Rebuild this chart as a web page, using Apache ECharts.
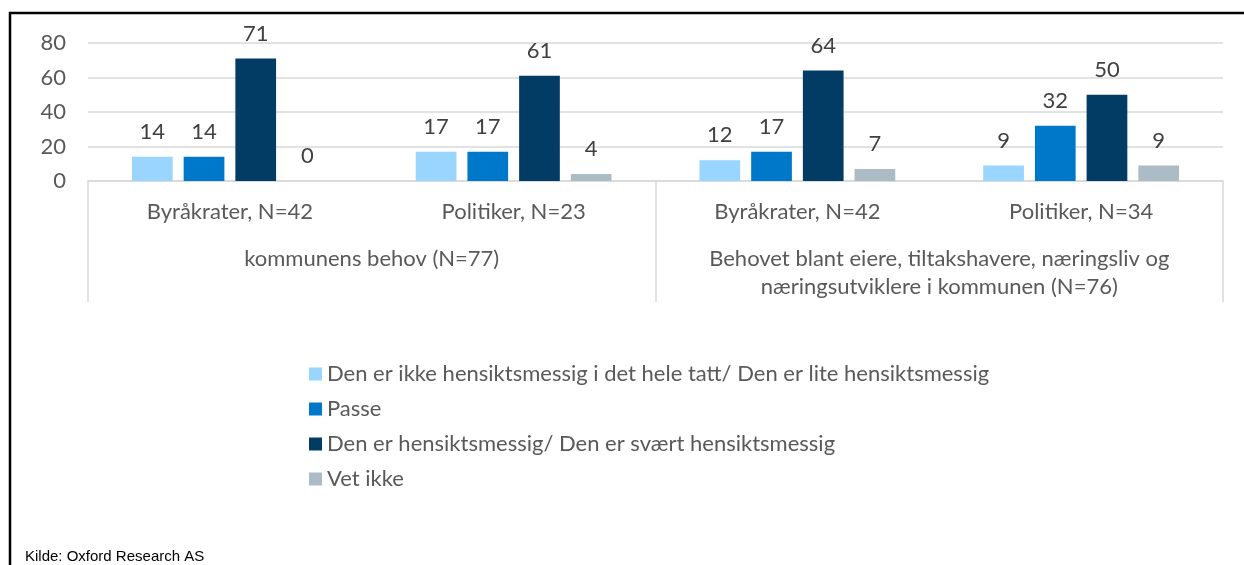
<!DOCTYPE html>
<html>
<head>
<meta charset="utf-8">
<script src="https://cdn.jsdelivr.net/npm/echarts@6/dist/echarts.min.js"></script>
<style>
  html, body { margin: 0; padding: 0; background: #fff; }
  #chart { width: 1244px; height: 565px; }
</style>
</head>
<body>
<div id="chart"></div>
<script>
// categories (inner level) and groups (outer level)
var categories = ["Byråkrater, N=42", "Politiker, N=23", "Byråkrater, N=42", "Politiker, N=34"];
var groups = ["kommunens behov (N=77)", "Behovet blant eiere, tiltakshavere, næringsliv og\nnæringsutviklere i kommunen (N=76)"];
var seriesNames = [
    "Den er ikke hensiktsmessig i det hele tatt/ Den er lite hensiktsmessig",
    "Passe",
    "Den er hensiktsmessig/ Den er svært hensiktsmessig",
    "Vet ikke"
];
var lite = [14, 17, 12, 9];
var passe = [14, 17, 17, 32];
var hensikt = [71, 61, 64, 50];
var vetIkke = [0, 4, 7, 9];
var yTicks = [0, 20, 40, 60, 80];
var colors = ["#99D5FE", "#0078C9", "#023B63", "#ABBCC7"];

var font = "Lato";
var fs = 22;
var chart = echarts.init(document.getElementById("chart"));

function bar(name, data, color) {
    return {
        name: name,
        type: "bar",
        data: data,
        barGap: "27%",
        barCategoryGap: "31%",
        itemStyle: { color: color },
        label: {
            show: true,
            position: "top",
            distance: 14,
            fontFamily: font,
            fontSize: fs,
            color: "#404040"
        }
    };
}

chart.setOption({
    animation: false,
    color: colors,
    grid: { left: 88, right: 21, top: 43, bottom: 384 },
    legend: {
        orient: "vertical",
        left: 304,
        top: 358,
        itemWidth: 13,
        itemHeight: 13,
        itemGap: 13,
        icon: "rect",
        data: seriesNames,
        textStyle: { fontFamily: font, fontSize: fs, color: "#595959", lineHeight: 22 }
    },
    xAxis: [{
        type: "category",
        data: categories,
        position: "bottom",
        axisLine: { lineStyle: { color: "#d9d9d9", width: 1.5 } },
        axisTick: { show: false },
        axisLabel: { interval: 0, margin: 20, fontFamily: font, fontSize: fs, color: "#595959" }
    }, {
        type: "category",
        data: groups,
        position: "bottom",
        axisLine: { show: false },
        axisTick: { show: true, interval: 0, length: 121, lineStyle: { color: "#d9d9d9", width: 1.5 } },
        axisLabel: { interval: 0, margin: 64, fontFamily: font, fontSize: fs, color: "#595959", lineHeight: 28, verticalAlign: "top" }
    }],
    yAxis: {
        type: "value",
        min: yTicks[0],
        max: yTicks[yTicks.length - 1],
        interval: yTicks[1] - yTicks[0],
        axisLine: { show: false },
        axisTick: { show: false },
        splitLine: { lineStyle: { color: "#d9d9d9", width: 1.5 } },
        axisLabel: { margin: 22, fontFamily: font, fontSize: fs, color: "#595959" }
    },
    series: [
        bar(seriesNames[0], lite, colors[0]),
        bar(seriesNames[1], passe, colors[1]),
        bar(seriesNames[2], hensikt, colors[2]),
        bar(seriesNames[3], vetIkke, colors[3])
    ],
    graphic: [{
        type: "rect",
        shape: { x: 10, y: 13, width: 1300, height: 620 },
        style: { fill: "none", stroke: "#000", lineWidth: 2.5 },
        silent: true
    }, {
        type: "text",
        left: 25,
        top: 549,
        style: {
            text: "Kilde: Oxford Research AS",
            fontFamily: "Liberation Sans",
            fontSize: 15,
            fill: "#000"
        }
    }]
});
</script>
</body>
</html>
